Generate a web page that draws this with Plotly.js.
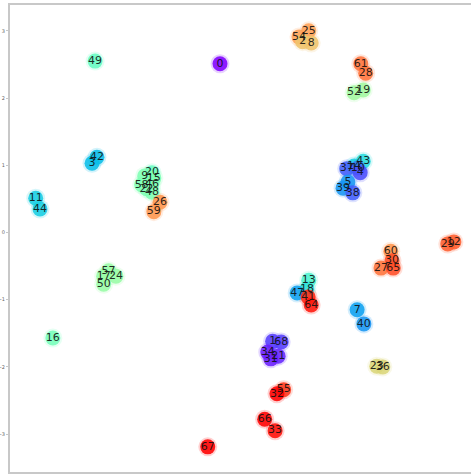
<!DOCTYPE html>
<html>
<head>
<meta charset="utf-8">
<script src="https://cdn.plot.ly/plotly-3.0.1.min.js"></script>
<style>
  html, body { margin: 0; padding: 0; background: #ffffff; }
  #chart { width: 471px; height: 474px; }
</style>
</head>
<body>
<div id="chart"></div>
<script>
// Point index labels of the 2-D embedding
const labels = [
  "49", "0", "54", "25", "2", "8", "61", "28", "52", "19",
  "42", "3", "11", "44", "43", "14", "10", "37", "4", "5",
  "39", "38", "20", "9", "15", "58", "46", "22", "48", "26",
  "59", "60", "30", "27", "65", "12", "29", "57", "24", "17",
  "50", "13", "18", "47", "41", "64", "7", "40", "16", "1",
  "68", "34", "21", "31", "23", "36", "55", "32", "66", "33", "67"
];

// First embedding component
const xs = [
  -2.61, -0.57, 0.72, 0.88, 0.78, 0.92, 1.73, 1.81, 1.62, 1.77,
  -2.58, -2.66, -3.58, -3.51, 1.77, 1.62, 1.68, 1.50, 1.72, 1.52,
  1.44, 1.60, -1.68, -1.80, -1.65, -1.85, -1.68, -1.77, -1.68, -1.55,
  -1.65, 2.22, 2.24, 2.06, 2.26, 3.25, 3.15, -2.39, -2.27, -2.47,
  -2.47, 0.88, 0.85, 0.69, 0.87, 0.92, 1.67, 1.78, -3.30, 0.29,
  0.43, 0.21, 0.38, 0.26, 1.99, 2.09, 0.47, 0.36, 0.16, 0.33, -0.77
];

// Second embedding component
const ys = [
  2.55, 2.51, 2.91, 3.00, 2.84, 2.82, 2.51, 2.37, 2.08, 2.12,
  1.12, 1.03, 0.51, 0.35, 1.06, 0.99, 0.96, 0.95, 0.89, 0.75,
  0.66, 0.59, 0.89, 0.84, 0.81, 0.71, 0.72, 0.65, 0.60, 0.45,
  0.31, -0.28, -0.42, -0.53, -0.53, -0.14, -0.17, -0.57, -0.65, -0.65,
  -0.77, -0.71, -0.84, -0.90, -0.96, -1.08, -1.15, -1.36, -1.57, -1.62,
  -1.63, -1.78, -1.84, -1.88, -1.99, -2.00, -2.34, -2.40, -2.78, -2.95, -3.19
];

// Cluster colour value of each point (0 = violet ... 1 = red)
const clusterValues = [
  0.45, 0.00, 0.78, 0.78, 0.72, 0.72, 0.85, 0.85, 0.57, 0.57,
  0.27, 0.27, 0.30, 0.30, 0.33, 0.30, 0.15, 0.12, 0.10, 0.20,
  0.20, 0.12, 0.45, 0.50, 0.50, 0.50, 0.50, 0.50, 0.50, 0.80,
  0.80, 0.80, 0.90, 0.85, 0.90, 0.88, 0.88, 0.55, 0.55, 0.55,
  0.55, 0.40, 0.35, 0.22, 0.95, 0.97, 0.22, 0.20, 0.48, 0.08,
  0.08, 0.04, 0.05, 0.04, 0.68, 0.68, 0.93, 1.00, 1.00, 0.98, 1.00
];

// Matplotlib-style "rainbow" colour map as a Plotly colorscale
function rainbowScale(n) {
  const scale = [];
  for (let i = 0; i <= n; i++) {
    const t = i / n;
    const r = Math.min(1, Math.abs(2 * t - 0.5));
    const g = Math.sin(Math.PI * t);
    const b = Math.cos(Math.PI * t / 2);
    scale.push([t, `rgb(${Math.round(r * 255)},${Math.round(g * 255)},${Math.round(b * 255)})`]);
  }
  return scale;
}
const scale = rainbowScale(20);

// faint glow behind each marker
const halo = {
  type: 'scatter',
  mode: 'markers',
  x: xs,
  y: ys,
  hoverinfo: 'skip',
  marker: {
    size: 19,
    color: clusterValues,
    colorscale: scale,
    cmin: 0,
    cmax: 1,
    opacity: 0.18,
    line: { width: 0 }
  }
};

const points = {
  type: 'scatter',
  mode: 'markers+text',
  x: xs,
  y: ys,
  text: labels,
  textposition: 'middle center',
  textfont: { family: 'DejaVu Sans', size: 11, color: 'rgba(15,15,15,0.9)' },
  marker: {
    size: 15,
    color: clusterValues,
    colorscale: scale,
    cmin: 0,
    cmax: 1,
    opacity: 0.88,
    line: { width: 0 }
  }
};

const layout = {
  width: 471,
  height: 474,
  margin: { l: 10, r: 0, t: 5, b: 2, pad: 0 },
  paper_bgcolor: '#ffffff',
  plot_bgcolor: '#ffffff',
  showlegend: false,
  xaxis: {
    range: [-4.0, 3.53],
    dtick: 1,
    tick0: 0,
    showgrid: false,
    zeroline: false,
    showline: true,
    mirror: true,
    linecolor: '#c8c8c8',
    linewidth: 2,
    ticks: 'outside',
    ticklen: 2,
    tickcolor: '#c8c8c8',
    showticklabels: false,
    automargin: false
  },
  yaxis: {
    range: [-3.564, 3.385],
    dtick: 1,
    tick0: 0,
    showgrid: false,
    zeroline: false,
    showline: true,
    mirror: false,
    linecolor: '#c8c8c8',
    linewidth: 2,
    ticks: 'outside',
    ticklen: 2,
    tickcolor: '#c8c8c8',
    tickfont: { family: 'DejaVu Sans', size: 5, color: '#666666' },
    automargin: false
  }
};

Plotly.newPlot('chart', [halo, points], layout, { displayModeBar: false, staticPlot: true });
</script>
</body>
</html>
